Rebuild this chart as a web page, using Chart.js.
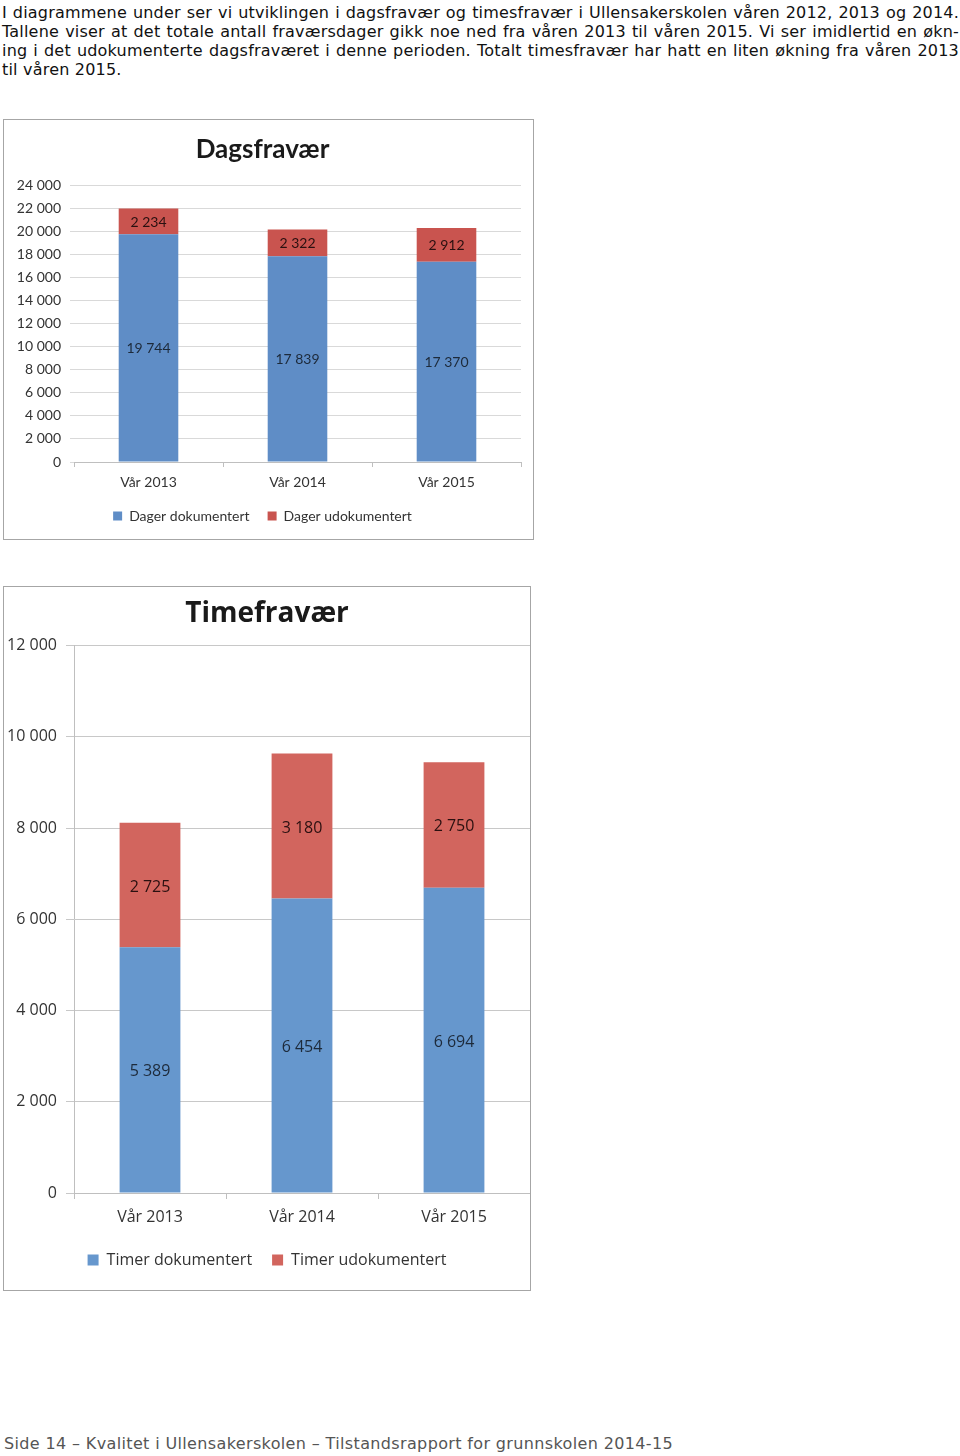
<!DOCTYPE html>
<html>
<head>
<meta charset="utf-8">
<script src="https://cdn.jsdelivr.net/npm/chart.js@4.4.1/dist/chart.umd.min.js"></script>
<style>
  html, body { margin: 0; padding: 0; background: #fff; }
  body { width: 960px; height: 1456px; position: relative; overflow: hidden; }
  .intro { position: absolute; left: 2px; top: 3px; width: 957px; font-family: "DejaVu Sans", sans-serif; font-size: 16px; line-height: 19px; color: #111; letter-spacing: 0.2px; }
  .intro div { text-align: justify; text-align-last: justify; white-space: nowrap; }
  .intro div.last { text-align-last: left; }
  .box { position: absolute; border: 1px solid #a6a6a6; background: #fff; }
  #box1 { left: 3px; top: 119px; width: 529px; height: 419px; }
  #box2 { left: 3px; top: 586px; width: 526px; height: 703px; }
  .footer { position: absolute; left: 4px; top: 1434px; font-family: "DejaVu Sans", sans-serif; font-size: 16px; letter-spacing: 0.36px; color: #555; }
</style>
</head>
<body>
<div class="intro">
  <div>I diagrammene under ser vi utviklingen i dagsfravær og timesfravær i Ullensakerskolen våren 2012, 2013 og 2014.</div>
  <div>Tallene viser at det totale antall fraværsdager gikk noe ned fra våren 2013 til våren 2015. Vi ser imidlertid en økn-</div>
  <div>ing i det udokumenterte dagsfraværet i denne perioden. Totalt timesfravær har hatt en liten økning fra våren 2013</div>
  <div class="last">til våren 2015.</div>
</div>
<div class="box" id="box1"><canvas id="c1" width="529" height="419"></canvas></div>
<div class="box" id="box2"><canvas id="c2" width="526" height="703"></canvas></div>
<div class="footer">Side 14 – Kvalitet i Ullensakerskolen – Tilstandsrapport for grunnskolen 2014-15</div>
<script>
const categories = ['Vår 2013', 'Vår 2014', 'Vår 2015'];
const dagerDokumentert = [19744, 17839, 17370];
const dagerUdokumentert = [2234, 2322, 2912];
const timerDokumentert = [5389, 6454, 6694];
const timerUdokumentert = [2725, 3180, 2750];
const dagsTicks = { min: 0, max: 24000, step: 2000 };
const timeTicks = { min: 0, max: 12000, step: 2000 };

function fmt(n) { return String(n).replace(/\B(?=(\d{3})+(?!\d))/g, ' '); }

const segLabels = {
  id: 'segLabels',
  afterDatasetsDraw(chart, args, opts) {
    const ctx = chart.ctx;
    ctx.save();
    ctx.font = opts.font;
    ctx.textAlign = 'center';
    ctx.textBaseline = 'middle';
    chart.data.datasets.forEach((ds, di) => {
      const meta = chart.getDatasetMeta(di);
      meta.data.forEach((el, i) => {
        ctx.fillStyle = opts.colors[di];
        ctx.fillText(fmt(ds.data[i]), el.x, (el.y + el.base) / 2 + (opts.dy || 0));
      });
    });
    ctx.restore();
  }
};

Chart.defaults.animation = false;

new Chart(document.getElementById('c1'), {
  type: 'bar',
  data: {
    labels: categories,
    datasets: [
      { label: 'Dager dokumentert', data: dagerDokumentert, backgroundColor: '#5f8dc6', barPercentage: 0.4, categoryPercentage: 1 },
      { label: 'Dager udokumentert', data: dagerUdokumentert, backgroundColor: '#c9544f', barPercentage: 0.4, categoryPercentage: 1 }
    ]
  },
  options: {
    responsive: false,
    layout: { padding: { left: 0, right: 12, top: 0, bottom: 6 } },
    plugins: {
      title: { display: true, text: 'Dagsfravær', color: '#1a1a1a', font: { family: 'Lato', size: 26, weight: 'bold' }, padding: { top: 14, bottom: 20 } },
      legend: { position: 'bottom', labels: { boxWidth: 9, boxHeight: 9, padding: 18, color: '#333', font: { family: 'Lato', size: 14 } } },
      tooltip: { enabled: false },
      segLabels: { font: '14px Lato', colors: ['#1d2a3a', '#2a1010'], dy: 1 }
    },
    scales: {
      x: {
        stacked: true,
        afterFit(s) { s.height = 29; },
        grid: { display: true, drawOnChartArea: false, drawTicks: true, tickLength: 5, color: '#bfbfbf', offset: true },
        border: { display: true, color: '#bfbfbf' },
        ticks: { color: '#333', padding: 7, font: { family: 'Lato', size: 14 } }
      },
      y: {
        stacked: true,
        min: dagsTicks.min, max: dagsTicks.max,
        afterFit(s) { s.width = 70; },
        afterBuildTicks(s) { const t = []; for (let v = dagsTicks.min; v <= dagsTicks.max; v += dagsTicks.step) t.push({ value: v }); s.ticks = t; },
        grid: { color: '#d9d9d9', tickLength: 4, drawTicks: true },
        border: { display: false },
        ticks: { color: '#333', padding: 9, font: { family: 'Lato', size: 14 }, callback: v => fmt(v) }
      }
    }
  },
  plugins: [segLabels]
});

new Chart(document.getElementById('c2'), {
  type: 'bar',
  data: {
    labels: categories,
    datasets: [
      { label: 'Timer dokumentert', data: timerDokumentert, backgroundColor: '#6697cd', barPercentage: 0.4, categoryPercentage: 1 },
      { label: 'Timer udokumentert', data: timerUdokumentert, backgroundColor: '#d2655e', barPercentage: 0.4, categoryPercentage: 1 }
    ]
  },
  options: {
    responsive: false,
    layout: { padding: { left: 0, right: 0, top: 0, bottom: 12 } },
    plugins: {
      title: { display: true, text: 'Timefravær', color: '#1a1a1a', font: { family: 'Open Sans', size: 28, weight: 'bold' }, padding: { top: 10, bottom: 15 } },
      legend: { position: 'bottom', labels: { boxWidth: 11, boxHeight: 11, padding: 20, color: '#333', font: { family: 'Open Sans', size: 16 } } },
      tooltip: { enabled: false },
      segLabels: { font: '16px "Open Sans"', colors: ['#1d2a3a', '#2a1010'], dy: 2 }
    },
    scales: {
      x: {
        stacked: true,
        afterFit(s) { s.height = 39; },
        grid: { display: true, drawOnChartArea: false, drawTicks: true, tickLength: 6, color: '#bfbfbf', offset: true },
        border: { display: true, color: '#bfbfbf' },
        ticks: { color: '#333', padding: 9, font: { family: 'Open Sans', size: 16 } }
      },
      y: {
        stacked: true,
        min: timeTicks.min, max: timeTicks.max,
        afterFit(s) { s.width = 70; },
        afterBuildTicks(s) { const t = []; for (let v = timeTicks.min; v <= timeTicks.max; v += timeTicks.step) t.push({ value: v }); s.ticks = t; },
        grid: { color: '#c8c8c8', tickLength: 8, drawTicks: true },
        border: { display: true, color: '#bfbfbf' },
        ticks: { color: '#333', padding: 9, font: { family: 'Open Sans', size: 16 }, callback: v => fmt(v) }
      }
    }
  },
  plugins: [segLabels]
});
</script>
</body>
</html>
